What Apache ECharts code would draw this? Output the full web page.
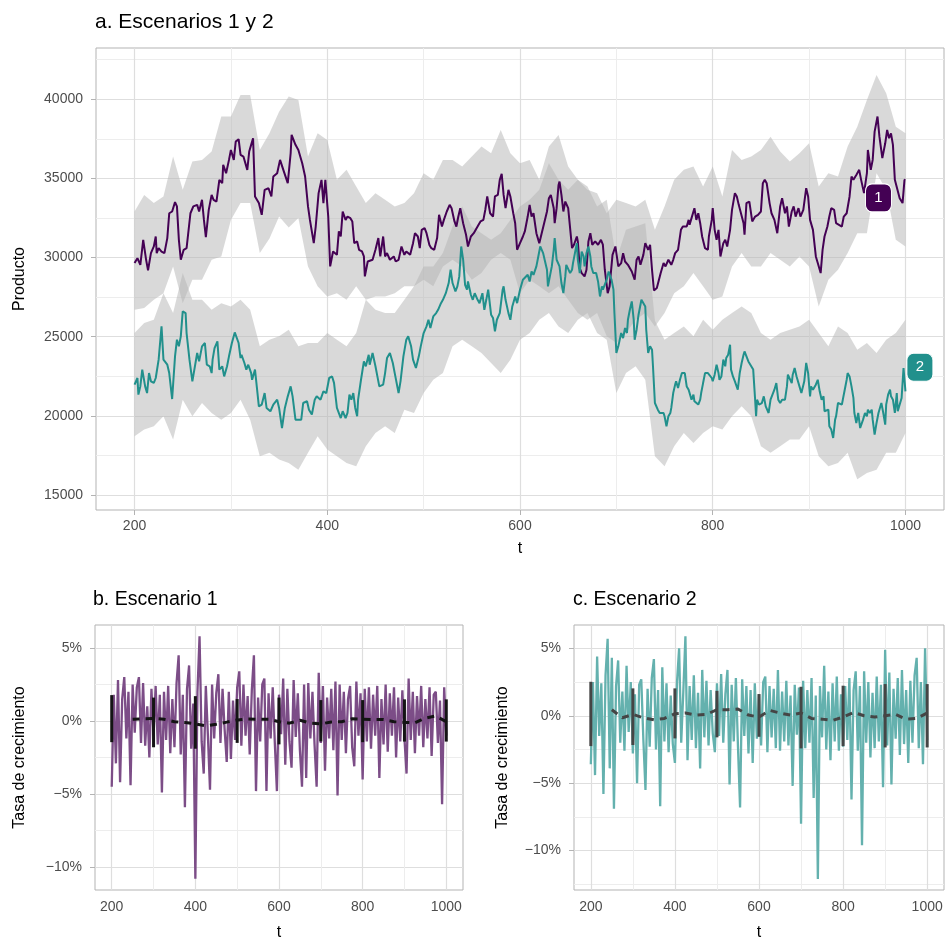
<!DOCTYPE html>
<html>
<head>
<meta charset="utf-8">
<script src="https://cdn.jsdelivr.net/npm/echarts@6/dist/echarts.min.js"></script>
<style>
  html, body { margin: 0; background: #fff; }
  #grafico { width: 946px; height: 942px; }
</style>
</head>
<body>
<div id="grafico"></div>
<script>
// ---------- datos ----------
// a. producto por escenario: pares [t, producto]
var escenario1 = [
  [200,29650],[203,29960],[206,29540],[209,31120],[212,29860],[214,29190],[217,30280],[220,30700],[222,31330],[223,30280],
  [225,30600],[228,30380],[231,30280],[234,31230],[236,32800],[239,32910],[242,33500],[244,33230],[246,31120],[248,29860],
  [251,30490],[254,30600],[258,32800],[261,33230],[265,33330],[267,32910],[270,33650],[272,32380],[274,31290],[277,33010],
  [280,33960],[282,33650],[285,33540],[288,34910],[291,34700],[292,35860],[295,35330],[298,36170],[300,36800],[303,36170],
  [305,37330],[308,37480],[310,36490],[313,36380],[317,35540],[319,36700],[321,37120],[323,37540],[325,33860],[329,33440],
  [332,32700],[335,34280],[339,34380],[342,33860],[344,35120],[348,35330],[351,36170],[355,35430],[359,34700],[362,36590],
  [363,37750],[367,37120],[370,36800],[374,35960],[377,35120],[380,33230],[382,32380],[386,30910],[388,31960],[391,34070],
  [394,34910],[396,33440],[398,34910],[401,32590],[403,29440],[406,30380],[410,30170],[412,31650],[414,31330],[416,32910],
  [419,32380],[421,32590],[424,32490],[426,32280],[428,30910],[431,31020],[433,30490],[436,30390],[438,30070],[439,28810],
  [442,29750],[444,29860],[447,29860],[450,30490],[453,31230],[455,30070],[458,31330],[460,30070],[462,30280],[465,29860],
  [469,30070],[471,29750],[474,29860],[477,30700],[480,30170],[482,30380],[486,30170],[489,30910],[491,31540],[494,31330],
  [496,30600],[498,31750],[501,31860],[503,31540],[506,30800],[508,30590],[511,30490],[514,31230],[516,32700],[519,31960],
  [521,32380],[524,32910],[527,33330],[529,33120],[532,32280],[534,31960],[536,32590],[538,33120],[541,32170],[544,31440],
  [546,30700],[549,31330],[552,31540],[554,31440],[557,32070],[559,32280],[562,32380],[564,33020],[566,33860],[569,32800],
  [572,32590],[574,33860],[577,33960],[579,34910],[581,35290],[583,33960],[585,33120],[588,34280],[590,33860],[593,32800],
  [595,32170],[597,30490],[600,30910],[603,31330],[605,31650],[608,32590],[610,33330],[612,32590],[614,32800],[617,31540],
  [620,30910],[628,32910],[630,33750],[632,33960],[635,33120],[636,32170],[638,33120],[640,34590],[641,34800],[643,33960],
  [645,32910],[647,33540],[648,33650],[650,33120],[652,33020],[654,30600],[656,30810],[659,31330],[660,31020],[662,29330],
  [664,29020],[667,28810],[669,29230],[671,31020],[673,31540],[675,30810],[678,31020],[681,30810],[684,31120],[686,30810],
  [688,29230],[691,27750],[693,28180],[696,30170],[699,30700],[700,30590],[702,29440],[705,29650],[707,30280],[709,29750],
  [712,29540],[714,29440],[716,29120],[719,28600],[721,29860],[723,30070],[725,29540],[728,30170],[730,30910],[733,30490],
  [735,30800],[737,29230],[739,27920],[742,28070],[744,28180],[746,29020],[749,29650],[751,29440],[754,29860],[757,29540],
  [759,29860],[761,30280],[764,30490],[767,31750],[769,31960],[773,31960],[775,32380],[776,32070],[778,32490],[781,33120],
  [783,32380],[785,32800],[787,32170],[789,31330],[792,30590],[795,30490],[796,31330],[799,32380],[800,33120],[802,31750],
  [804,31120],[806,31750],[808,30070],[811,30910],[813,31120],[815,30700],[818,31750],[820,33010],[823,34070],[825,33860],
  [827,33330],[829,33230],[832,32170],[833,31440],[835,33440],[838,33540],[841,32280],[844,32590],[847,32700],[850,32910],
  [852,34700],[854,34910],[856,34700],[859,33440],[861,32800],[864,32380],[867,31540],[870,33230],[872,33750],[875,32800],
  [877,33230],[879,31960],[882,32910],[884,33230],[886,32590],[889,33120],[891,32590],[894,33010],[897,34380],[899,33860],
  [901,32380],[904,31750],[907,30070],[909,29650],[912,29020],[914,30490],[916,31330],[919,31960],[921,32590],[923,33120],
  [926,33010],[928,32170],[930,32170],[934,31960],[936,32590],[939,32800],[942,33860],[944,35120],[946,34910],[949,35220],
  [952,35540],[954,34910],[957,34070],[960,35330],[961,36800],[964,35540],[966,36170],[968,37960],[971,38910],[973,37640],
  [976,36280],[979,37220],[981,38060],[983,37540],[985,37850],[987,37120],[989,34910],[991,34910],[994,33750],[997,33440],
  [999,34910],[1000,34900]
];
var escenario2 = [
  [200,21970],[203,22390],[204,21340],[206,21860],[208,22920],[209,23020],[211,21860],[213,21440],[215,22700],[217,22180],
  [220,22075],[222,22390],[225,23550],[228,25650],[230,23550],[234,23230],[236,22700],[239,21060],[242,23760],[244,24810],
  [246,24390],[248,25020],[250,26600],[253,26490],[254,25230],[257,23550],[260,22180],[262,22075],[265,23970],[267,23440],
  [270,24390],[273,24600],[275,23230],[278,23130],[280,22700],[281,23550],[283,24280],[286,24700],[288,22920],[291,23130],
  [293,22490],[296,23130],[298,23760],[301,24600],[304,25270],[306,25230],[308,24600],[310,23650],[311,23860],[314,23340],
  [316,22920],[318,23230],[321,22700],[322,22280],[325,22920],[327,21760],[329,20600],[332,20710],[335,21440],[337,20500],
  [341,20290],[344,20710],[348,21020],[350,20500],[353,19230],[356,20500],[359,21230],[362,21860],[364,21230],[367,19760],
  [369,19760],[373,19760],[375,20810],[379,20920],[381,20390],[384,20080],[387,21020],[389,21230],[393,21020],[396,21550],
  [399,21440],[402,22390],[405,22490],[407,22080],[410,20500],[414,19860],[416,20290],[419,19860],[421,20180],[423,21340],
  [425,21020],[427,21440],[429,20500],[431,19970],[432,21020],[435,22280],[438,23440],[440,23130],[443,23860],[444,23230],
  [447,23970],[450,23130],[452,22490],[454,21860],[458,21970],[460,22700],[462,23650],[465,23970],[468,23340],[470,22700],
  [474,21440],[476,22180],[479,23760],[482,24810],[484,25020],[487,24390],[489,23550],[492,23020],[495,23760],[497,24390],
  [500,25230],[503,25650],[505,26070],[507,25550],[510,26280],[513,26490],[515,26700],[518,27120],[520,27330],[523,27750],
  [526,28390],[528,29230],[530,28390],[533,27860],[535,28180],[537,28810],[539,30700],[541,29860],[543,28280],[545,27970],
  [546,28490],[549,27650],[551,27330],[553,27750],[556,27330],[558,27120],[561,27750],[563,26700],[565,27330],[567,27970],
  [570,26390],[572,26180],[574,25340],[576,26070],[579,26490],[582,27970],[583,28180],[585,27330],[588,26490],[590,26070],
  [592,26910],[595,27540],[597,27120],[600,27970],[603,28600],[605,28600],[608,28910],[610,28490],[612,29120],[614,28910],
  [617,29440],[619,30070],[621,30700],[624,30280],[626,29750],[628,29230],[629,28180],[631,28810],[633,29440],[635,30490],
  [636,31230],[638,29860],[640,29960],[641,29440],[643,28390],[645,27750],[647,28810],[648,29540],[650,29650],[652,29020],
  [654,29230],[655,29650],[657,30280],[659,30910],[660,29860],[662,29020],[664,30380],[666,30070],[667,29440],[669,30280],
  [671,30700],[673,30070],[674,29440],[676,29020],[678,29120],[679,29020],[681,28490],[683,27540],[685,28180],[686,27970],
  [688,28070],[690,28600],[692,29120],[693,29020],[695,28600],[697,27970],[698,26490],[700,23970],[702,24390],[704,24390],
  [705,25230],[707,24910],[709,25550],[711,25230],[712,26070],[714,26700],[716,27230],[718,26070],[719,24810],[721,25440],
  [723,26390],[724,26490],[726,27330],[728,27440],[730,26910],[731,25440],[733,23970],[735,24390],[737,24180],[738,23130],
  [740,20810],[742,20710],[743,20390],[745,20180],[747,20290],[749,20180],[750,19970],[752,19340],[754,19970],[756,20180],
  [757,20500],[759,21440],[761,21970],[762,22180],[764,21760],[766,22280],[768,22700],[769,22810],[771,22700],[773,21860],
  [775,21650],[776,21550],[778,21020],[780,21340],[781,20920],[783,20810],[785,20710],[787,21020],[788,21440],[790,22070],
  [792,22700],[794,22810],[795,22700],[797,22600],[799,22390],[800,22180],[802,22600],[804,23230],[806,22700],[807,22280],
  [809,22490],[811,23550],[813,23130],[814,23650],[816,23860],[818,24490],[819,22920],[821,22490],[823,22180],[825,22280],
  [826,21650],[828,22700],[830,23340],[832,23860],[833,24070],[835,23760],[837,23440],[839,23340],[842,22920],[844,21020],
  [845,19970],[846,21020],[848,20710],[851,20810],[853,21230],[855,20600],[858,20180],[860,21020],[862,21340],[864,21650],
  [866,22070],[868,21020],[870,20810],[872,21020],[875,21020],[877,21860],[878,22600],[880,22700],[882,22070],[883,22600],
  [885,23020],[887,22490],[890,21860],[892,21440],[895,22180],[897,23340],[899,22700],[901,21230],[902,21860],[904,21650],
  [907,21970],[909,22280],[911,21550],[913,21020],[915,21230],[916,20290],[918,20180],[920,20390],[921,19340],[923,19130],
  [925,18600],[927,19760],[928,19970],[930,20810],[932,20920],[934,20710],[935,21020],[937,21650],[939,22280],[940,22700],
  [942,22490],[944,21860],[946,21130],[947,20180],[949,19550],[951,20180],[953,19230],[954,19130],[956,19760],[958,20180],
  [960,19970],[961,20390],[963,20180],[965,20390],[966,19760],[968,18810],[970,19550],[972,20180],[973,20290],[975,20810],
  [977,20180],[979,19440],[980,20710],[982,21340],[984,21650],[985,21230],[987,21020],[989,20180],[991,21440],[992,20290],
  [994,20390],[996,21130],[998,23020],[999,22280],[1000,21550]
];
// bandas grises, cada 10 periodos desde t = 200
var banda1Sup = [32910,33960,33440,33860,36380,34280,36070,36170,36700,38910,
  38910,40270,40270,36800,37850,39220,40170,39960,36380,37850,
  37430,34910,35540,34490,33440,34070,33650,33220,33440,34070,
  35330,34910,36170,36170,35750,36380,37010,36590,38060,36590,
  35960,36170,34910,37010,37750,35750,34910,34280,34070,32800,
  33650,33440,33220,33650,31750,33220,34910,35540,35750,34490,
  35750,33860,36800,36170,36380,36800,37640,36700,36070,36590,
  37220,34490,35330,35120,37010,38270,39960,41530,40380,38270,37850];
var banda1Inf = [26700,26810,27330,27750,29440,27120,28600,28600,29860,30070,
  32380,33440,33440,30280,31200,32590,31900,32500,29440,28180,
  27540,27750,27330,28180,27330,27540,27540,27750,28180,28180,
  28600,28180,29440,29860,29440,28600,29020,29860,30280,29860,
  27750,28600,28180,27750,28180,27330,26490,26070,26490,25020,
  24600,25230,26070,26490,25650,26490,27750,28180,29020,28180,
  27330,27540,29440,30280,29440,29440,30280,29860,29440,30070,
  29440,26910,28600,29230,30280,31540,31540,35330,34280,31120,30700];
var banda2Sup = [25230,25860,26070,27750,26490,29020,27330,27330,26700,27120,
  26910,27330,26700,24390,24810,25020,25440,24390,24600,24600,
  25230,24810,24390,25230,27330,26700,26490,26490,27330,28180,
  29440,29440,30280,31960,33220,31960,31540,31120,31540,32380,
  33220,33650,34280,35960,34910,34280,34910,34490,33220,33650,
  29860,31750,31960,32170,26000,24800,25230,25650,25020,26070,
  25440,26070,26490,26910,26490,25230,24810,25230,25440,25650,
  26070,25230,24390,25650,25230,24180,24600,23970,24810,25230,26070];
var banda2Inf = [18710,19130,19340,19970,18500,21020,19970,20810,20180,19760,
  20180,21020,19760,17450,17660,17240,17020,16600,17660,18710,
  17870,17450,17020,16810,18080,18920,19340,18920,20390,20180,
  21440,22280,22700,24390,24810,24390,23970,23340,22700,23550,
  24810,25230,26070,26490,25650,25230,26070,26490,25230,24810,
  21440,22700,23130,22280,17450,16810,18080,18920,18290,18920,
  19340,19130,19970,20600,19970,18080,17660,18080,18500,18500,
  19340,17450,16810,17020,17660,16000,16390,16600,17660,17660,18920];

// b, c. tasa de crecimiento (%), cada 5 periodos desde t = 200
var tasa1 = [-4.5,1.8,-2.9,2.8,-4.2,1.5,3.0,-1.2,2.0,-4.4,
  2.5,-0.8,2.3,3.0,-1.5,2.6,-1.7,1.0,-2.5,2.2,
  -1.0,2.4,-1.6,1.8,-4.9,2.0,-1.3,2.4,-2.2,1.5,
  -1.8,2.6,4.5,-2.3,1.8,-5.9,2.2,3.8,-1.9,1.2,
  -10.8,2.0,5.8,-1.4,-3.6,2.4,-1.0,-4.7,2.5,-1.2,
  1.9,3.2,-1.5,2.2,-0.6,-2.8,2.0,-2.6,1.4,-1.3,
  2.3,3.4,-1.7,2.5,-1.0,1.7,-2.3,2.1,4.5,-4.8,
  1.6,-1.4,2.5,2.9,-4.8,1.9,-1.2,2.3,-1.5,-4.8,
  1.8,-0.9,2.9,-3.0,2.2,-1.4,-3.2,2.8,-1.1,1.9,
  -2.0,-4.5,2.5,-3.9,2.6,-1.2,2.0,-1.6,-4.5,3.3,
  -1.5,2.4,-3.4,1.6,-1.2,2.2,-2.0,2.7,-5.1,2.5,
  -1.3,2.0,-2.2,1.5,2.4,-1.8,-3.1,2.7,-1.0,1.9,
  -4.0,2.2,-1.4,2.3,-1.9,1.8,-1.0,2.4,-3.9,1.5,
  -1.6,2.5,-2.1,1.9,-1.0,2.3,-2.5,1.6,-1.4,2.1,
  -1.2,-3.6,2.9,-1.3,2.0,-2.2,1.7,-1.0,2.4,-1.8,
  1.5,-1.2,2.3,-2.4,1.8,2.0,-1.5,1.4,-5.7,2.3,
  -1.0];
var tasa2 = [-3.6,2.5,-4.4,4.4,-1.5,2.4,-5.8,3.0,5.7,-3.9,
  4.3,-6.9,2.2,4.1,-2.0,1.8,-2.6,3.7,-1.2,2.5,
  -2.8,1.6,-5.0,2.3,2.7,-1.8,-5.5,2.0,-2.3,2.8,
  4.2,-2.5,1.9,-6.7,3.6,-1.9,2.4,-2.7,1.5,-2.1,
  -3.5,2.5,5.0,-2.0,1.8,5.9,-3.3,2.2,-1.8,3.0,
  -2.4,1.7,-3.9,3.4,-1.6,2.6,-2.2,1.9,-1.3,-2.7,
  2.4,-1.5,3.1,-2.0,1.6,3.4,-5.1,2.3,-1.9,2.8,
  -2.3,-6.8,2.7,-1.5,2.2,-2.8,1.9,-3.5,2.4,-1.7,
  1.6,-2.2,2.5,2.9,-2.7,2.2,-1.6,2.0,-2.4,3.4,
  -2.6,1.8,-1.9,2.6,-2.2,1.5,-5.2,2.3,-1.4,2.1,
  -8.0,2.6,-2.4,1.9,-2.0,2.8,-6.1,1.5,-12.1,2.2,
  -1.6,3.7,-2.5,1.8,-3.3,2.4,-1.9,2.9,-2.6,1.6,
  -2.3,2.2,-1.8,2.8,-6.2,1.9,3.3,-2.6,2.2,-9.6,
  3.3,-2.0,2.5,-3.1,1.7,-2.4,2.9,-1.9,2.3,-5.3,
  4.9,-2.2,3.2,-5.1,2.0,-1.7,2.8,-2.9,3.4,-2.1,
  1.9,-3.5,2.6,-2.0,3.0,4.3,-2.4,2.5,-3.6,5.0,
  -1.8];
// media movil (linea discontinua), cada 25 periodos desde t = 250
var media1 = [0.12,0.15,0.18,0.12,-0.05,-0.10,-0.20,-0.33,-0.22,-0.08,
  0.07,0.14,0.12,0.12,-0.05,-0.15,0.05,-0.15,-0.20,-0.07,
  -0.05,0.15,0.12,0.10,0.10,-0.05,-0.10,-0.12,0.20,0.34,-0.05];
var media2 = [0.45,-0.15,0.10,-0.15,-0.30,-0.20,0.15,0.20,0.05,0.10,
  0.45,0.45,0.50,0.05,-0.10,0.40,0.20,0.05,0.20,-0.20,
  -0.25,-0.35,-0.10,0.25,0.00,-0.10,0.00,0.10,-0.25,-0.20,0.20];
// barras verticales cada 100 periodos
var barraT = [200,300,400,500,600,700,800,900,1000];
var barra1Sup = [1.77,1.60,1.70,1.50,1.60,1.43,1.43,1.48,1.48];
var barra1Inf = [-1.45,-1.80,-1.90,-1.50,-1.60,-1.40,-1.45,-1.41,-1.41];
var barra2Sup = [2.52,2.03,2.03,1.85,1.61,2.15,2.23,2.35,2.35];
var barra2Inf = [-2.25,-2.17,-1.68,-1.60,-1.56,-2.42,-2.25,-2.35,-2.35];

// ejes
var ticksX = [200,400,600,800,1000];
var menoresX = [300,500,700,900];
var ticksProducto = [15000,20000,25000,30000,35000,40000];
var menoresProducto = [17500,22500,27500,32500,37500,42500];
var ticksTasa = [-10,-5,0,5];
var menoresTasa = [-12.5,-7.5,-2.5,2.5];
var etiquetas = [{ nombre: '1', t: 972, v: 33770 }, { nombre: '2', t: 1015, v: 23070 }];

// ---------- construccion ----------
var fuente = 'Liberation Sans, Arial, sans-serif';
var bandaT = banda1Sup.map(function (_, i) { return 200 + 10 * i; });
var tasaT = tasa1.map(function (_, i) { return 200 + 5 * i; });
var mediaT = media1.map(function (_, i) { return 250 + 25 * i; });

function num(v) { return String(v); }
function pct(v) {
  return (v < 0 ? '\u2212' + Math.abs(v) : v) + '%';
}

function ejeMayor(gi, min, max, valores, fmt, esX, margen, nombre, nameGap) {
  return {
    type: 'value', gridIndex: gi, min: min, max: max,
    position: esX ? 'bottom' : 'left',
    name: nombre, nameLocation: 'middle', nameGap: nameGap,
    nameTextStyle: { color: '#000', fontSize: 16, fontFamily: fuente },
    axisLine: { show: false },
    axisTick: { show: true, length: 5, customValues: valores, lineStyle: { color: '#b3b3b3', width: 1 } },
    axisLabel: { customValues: valores, formatter: fmt, color: '#4d4d4d', fontSize: 14, fontFamily: fuente, margin: margen },
    splitLine: { show: true, lineStyle: { color: '#dedede', width: 1.2 } }
  };
}

function ejeMenor(gi, min, max, valores, esX) {
  return {
    type: 'value', gridIndex: gi, min: min, max: max,
    position: esX ? 'bottom' : 'left',
    axisLine: { show: false },
    axisTick: { show: false, customValues: valores },
    axisLabel: { show: false, customValues: valores },
    splitLine: { show: true, lineStyle: { color: '#ededed', width: 1 } }
  };
}

function bandaSerie(sup, inf) {
  return {
    type: 'custom', xAxisIndex: 0, yAxisIndex: 0, silent: true, z: 1,
    data: bandaT.map(function (t, i) { return [t, inf[i], sup[i]]; }),
    encode: { x: 0, y: [1, 2] },
    renderItem: function (params, api) {
      if (params.dataIndex !== 0) return;
      var pts = [];
      for (var i = 0; i < bandaT.length; i++) pts.push(api.coord([bandaT[i], sup[i]]));
      for (var j = bandaT.length - 1; j >= 0; j--) pts.push(api.coord([bandaT[j], inf[j]]));
      return { type: 'polygon', shape: { points: pts }, style: { fill: 'rgba(179,179,179,0.5)' } };
    }
  };
}

function barraSerie(gi, inf, sup, color) {
  return {
    type: 'custom', xAxisIndex: gi, yAxisIndex: gi, silent: true, z: 5,
    data: barraT.map(function (t, i) { return [t, inf[i], sup[i]]; }),
    encode: { x: 0, y: [1, 2] },
    renderItem: function (params, api) {
      var a = api.coord([api.value(0), api.value(1)]);
      var b = api.coord([api.value(0), api.value(2)]);
      return { type: 'line', shape: { x1: a[0], y1: a[1], x2: b[0], y2: b[1] },
        style: { stroke: color, lineWidth: 3 } };
    }
  };
}

function lineaSerie(gi, datos, color, ancho, z, tipo) {
  return {
    type: 'line', xAxisIndex: gi, yAxisIndex: gi, data: datos, z: z,
    symbol: 'none', silent: true,
    lineStyle: { color: color, width: ancho, type: tipo || 'solid' }
  };
}

var chart = echarts.init(document.getElementById('grafico'));
chart.setOption({
  animation: false,
  backgroundColor: '#fff',
  title: [
    { text: 'a. Escenarios 1 y 2', left: 95, top: 12, padding: 0,
      textStyle: { fontSize: 21, fontWeight: 'normal', color: '#000', fontFamily: fuente } },
    { text: 'b. Escenario 1', left: 93, top: 590, padding: 0,
      textStyle: { fontSize: 19.5, fontWeight: 'normal', color: '#000', fontFamily: fuente } },
    { text: 'c. Escenario 2', left: 573, top: 590, padding: 0,
      textStyle: { fontSize: 19.5, fontWeight: 'normal', color: '#000', fontFamily: fuente } }
  ],
  grid: [
    { left: 96, top: 48, width: 848, height: 462, show: true, borderColor: '#b3b3b3', borderWidth: 1, outerBoundsMode: 'none' },
    { left: 95, top: 625, width: 368, height: 265, show: true, borderColor: '#b3b3b3', borderWidth: 1, outerBoundsMode: 'none' },
    { left: 574, top: 625, width: 370, height: 265, show: true, borderColor: '#b3b3b3', borderWidth: 1, outerBoundsMode: 'none' }
  ],
  xAxis: [
    ejeMayor(0, 160, 1040, ticksX, num, true, 9, 't', 31),
    ejeMayor(1, 160, 1040, ticksX, num, true, 10, 't', 35),
    ejeMayor(2, 160, 1040, ticksX, num, true, 10, 't', 35),
    ejeMenor(0, 160, 1040, menoresX, true),
    ejeMenor(1, 160, 1040, menoresX, true),
    ejeMenor(2, 160, 1040, menoresX, true)
  ],
  yAxis: [
    ejeMayor(0, 14050, 43240, ticksProducto, num, false, 13, 'Producto', 68),
    ejeMayor(1, -11.57, 6.57, ticksTasa, pct, false, 13, 'Tasa de crecimiento', 67),
    ejeMayor(2, -12.92, 6.73, ticksTasa, pct, false, 13, 'Tasa de crecimiento', 63),
    ejeMenor(0, 14050, 43240, menoresProducto, false),
    ejeMenor(1, -11.57, 6.57, menoresTasa, false),
    ejeMenor(2, -12.92, 6.73, menoresTasa, false)
  ],
  series: [
    bandaSerie(banda1Sup, banda1Inf),
    bandaSerie(banda2Sup, banda2Inf),
    lineaSerie(0, escenario1, '#440154', 2, 3),
    lineaSerie(0, escenario2, '#21908c', 2, 3),
    {
      type: 'scatter', xAxisIndex: 0, yAxisIndex: 0, z: 6, silent: true,
      symbol: 'roundRect', symbolSize: [26, 28],
      data: etiquetas.map(function (e, i) {
        return { name: e.nombre, value: [e.t, e.v],
          itemStyle: { color: i === 0 ? '#440154' : '#21908c', opacity: 1, borderColor: '#fff', borderWidth: 1 } };
      }),
      label: { show: true, position: 'inside', formatter: '{b}', color: '#fff', fontSize: 15, fontFamily: fuente }
    },
    lineaSerie(1, tasaT.map(function (t, i) { return [t, tasa1[i]]; }), '#7c4d87', 2.3, 3),
    barraSerie(1, barra1Inf, barra1Sup, '#141414'),
    lineaSerie(1, mediaT.map(function (t, i) { return [t, media1[i]]; }), '#141414', 3, 6, [7, 6]),
    lineaSerie(2, tasaT.map(function (t, i) { return [t, tasa2[i]]; }), '#64b1ae', 2.3, 3),
    barraSerie(2, barra2Inf, barra2Sup, '#454545'),
    lineaSerie(2, mediaT.map(function (t, i) { return [t, media2[i]]; }), '#454545', 3, 6, [7, 6])
  ]
});
</script>
</body>
</html>
